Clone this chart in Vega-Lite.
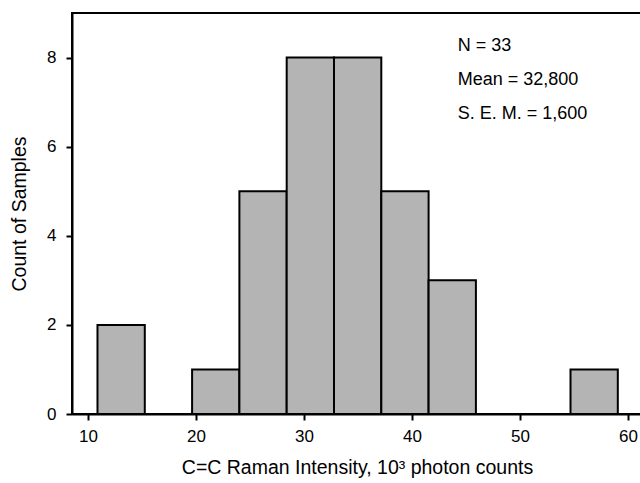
{
  "$schema": "https://vega.github.io/schema/vega-lite/v6.json",
  "autosize": "none",
  "width": 570,
  "height": 401,
  "padding": {"left": 72, "top": 13, "right": 0, "bottom": 69},
  "background": "white",
  "config": {
    "view": {"stroke": "black", "strokeWidth": 2},
    "font": "Liberation Sans",
    "axis": {
      "grid": false,
      "domainColor": "black",
      "domainWidth": 2,
      "tickColor": "black",
      "tickWidth": 2,
      "tickSize": 6,
      "labelFont": "Liberation Sans",
      "labelFontSize": 17,
      "labelColor": "black",
      "titleFont": "Liberation Sans",
      "titleFontSize": 19.5,
      "titleFontWeight": "normal",
      "titleColor": "black"
    }
  },
  "layer": [
    {
      "data": {
        "values": [
          {"start": 10.88, "end": 15.26, "count": 2},
          {"start": 15.26, "end": 19.64, "count": 0},
          {"start": 19.64, "end": 24.02, "count": 1},
          {"start": 24.02, "end": 28.40, "count": 5},
          {"start": 28.40, "end": 32.78, "count": 8},
          {"start": 32.78, "end": 37.16, "count": 8},
          {"start": 37.16, "end": 41.54, "count": 5},
          {"start": 41.54, "end": 45.92, "count": 3},
          {"start": 45.92, "end": 50.30, "count": 0},
          {"start": 50.30, "end": 54.68, "count": 0},
          {"start": 54.68, "end": 59.06, "count": 1}
        ]
      },
      "transform": [{"filter": "datum.count > 0"}],
      "mark": {"type": "bar", "fill": "#b4b4b4", "stroke": "black", "strokeWidth": 2},
      "encoding": {
        "x": {
          "field": "start",
          "type": "quantitative",
          "scale": {"domain": [8.52, 61.30], "nice": false, "zero": false},
          "axis": {
            "values": [10, 20, 30, 40, 50, 60],
            "title": "C=C Raman Intensity, 10³ photon counts",
            "labelPadding": 8,
            "titlePadding": 14
          }
        },
        "x2": {"field": "end"},
        "y": {
          "field": "count",
          "type": "quantitative",
          "scale": {"domain": [0, 9], "nice": false},
          "axis": {
            "values": [0, 2, 4, 6, 8],
            "title": "Count of Samples",
            "labelPadding": 10,
            "titlePadding": 17
          }
        },
        "y2": {"datum": 0}
      }
    },
    {
      "data": {
        "values": [
          {"label": "N = 33", "row": 8.14},
          {"label": "Mean = 32,800", "row": 7.38},
          {"label": "S. E. M. = 1,600", "row": 6.61}
        ]
      },
      "mark": {"type": "text", "align": "left", "baseline": "alphabetic", "fontSize": 18, "font": "Liberation Sans", "color": "black"},
      "encoding": {
        "x": {"datum": 44.23, "type": "quantitative"},
        "y": {"field": "row", "type": "quantitative"},
        "text": {"field": "label"}
      }
    }
  ]
}
